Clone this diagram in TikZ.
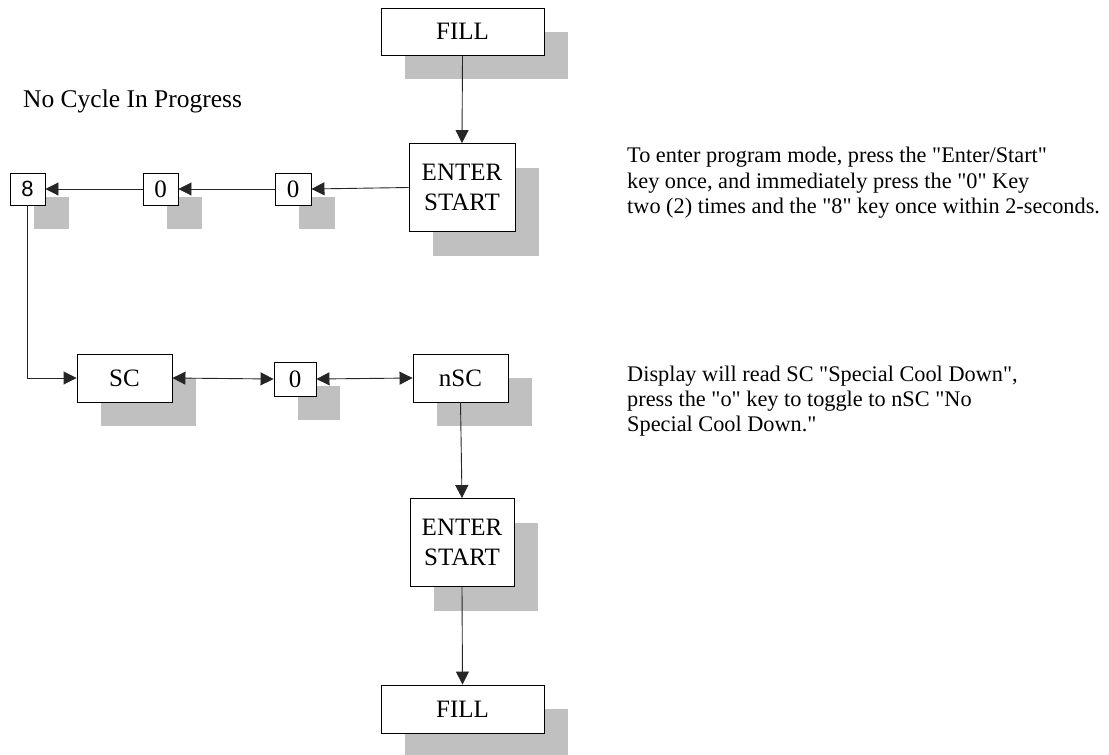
\documentclass[tikz,border=0pt]{standalone}
\usepackage{fontspec}
\setmainfont{Liberation Serif}[Ligatures=TeXOff]
\newfontfamily\arialfont{Liberation Sans}
\usetikzlibrary{arrows.meta,shadows}
\begin{document}
\begin{tikzpicture}[x=1pt,y=-1pt,
  every node/.style={font=\fontsize{25}{30}\selectfont},
  keybox/.style={draw=black, line width=0.9pt, fill=white, inner sep=0pt, align=center,
    drop shadow={shadow xshift=23.5pt, shadow yshift=-24pt, fill=shadowgray, opacity=1}},
  conn/.style={line width=0.9pt, draw=black!85},
  tip/.style={-{Triangle[length=13pt,width=13pt]}},
  btip/.style={{Triangle[length=13pt,width=13pt]}-{Triangle[length=13pt,width=13pt]}},
  note/.style={anchor=base west, inner sep=0pt, font=\fontsize{22.3}{26}\selectfont}
]
\definecolor{shadowgray}{RGB}{192,192,192}
\useasboundingbox (0,0) rectangle (1109,755);

\node[keybox, minimum width=163pt, minimum height=47pt] (fill1) at (462.5,31.5) {FILL};
\node[keybox, minimum width=106pt, minimum height=88pt] (ent1) at (462,187.5) {ENTER\\START};
\node[keybox, minimum width=35pt, minimum height=32pt, font=\arialfont\fontsize{22}{26}\selectfont] (k8) at (27.5,189) {8};
\node[keybox, minimum width=35pt, minimum height=32pt] (k0a) at (160.5,189) {0};
\node[keybox, minimum width=36pt, minimum height=32pt] (k0b) at (293,189) {0};
\node[keybox, minimum width=95pt, minimum height=48pt] (sc) at (124.5,378) {SC};
\node[keybox, minimum width=42pt, minimum height=34pt] (k0c) at (295,379) {0};
\node[keybox, minimum width=95pt, minimum height=48pt] (nsc) at (460.5,378) {nSC};
\node[keybox, minimum width=104pt, minimum height=88pt] (ent2) at (462,542.5) {ENTER\\START};
\node[keybox, minimum width=163pt, minimum height=48pt] (fill2) at (462.5,709) {FILL};

\draw[conn,tip] (fill1.south) -- (ent1.north);
\draw[conn,tip] (ent1.west) -- (k0b.east);
\draw[conn,tip] (k0b.west) -- (k0a.east);
\draw[conn,tip] (k0a.west) -- (k8.east);
\draw[conn,tip] (k8.south) |- (sc.west);
\draw[conn,btip] (sc.east) -- (k0c.west);
\draw[conn,btip] (k0c.east) -- (nsc.west);
\draw[conn,tip] (nsc.south) -- (ent2.north);
\draw[conn,tip] (ent2.south) -- (fill2.north);

\node[note, font=\fontsize{25.5}{30}\selectfont] (nc) at (23,107) {No Cycle In Progress};
\node[note] (t1) at (627,162) {To enter program mode, press the "Enter/Start"};
\node[note] (t2) at (627,188) {key once, and immediately press the "0" Key};
\node[note] (t3) at (627,213) {two (2) times and the "8" key once within 2-seconds.};
\node[note] (d1) at (627,381) {Display will read SC "Special Cool Down",};
\node[note] (d2) at (627,406) {press the "o" key to toggle to nSC "No};
\node[note] (d3) at (627,431) {Special Cool Down."};
\end{tikzpicture}
\end{document}
